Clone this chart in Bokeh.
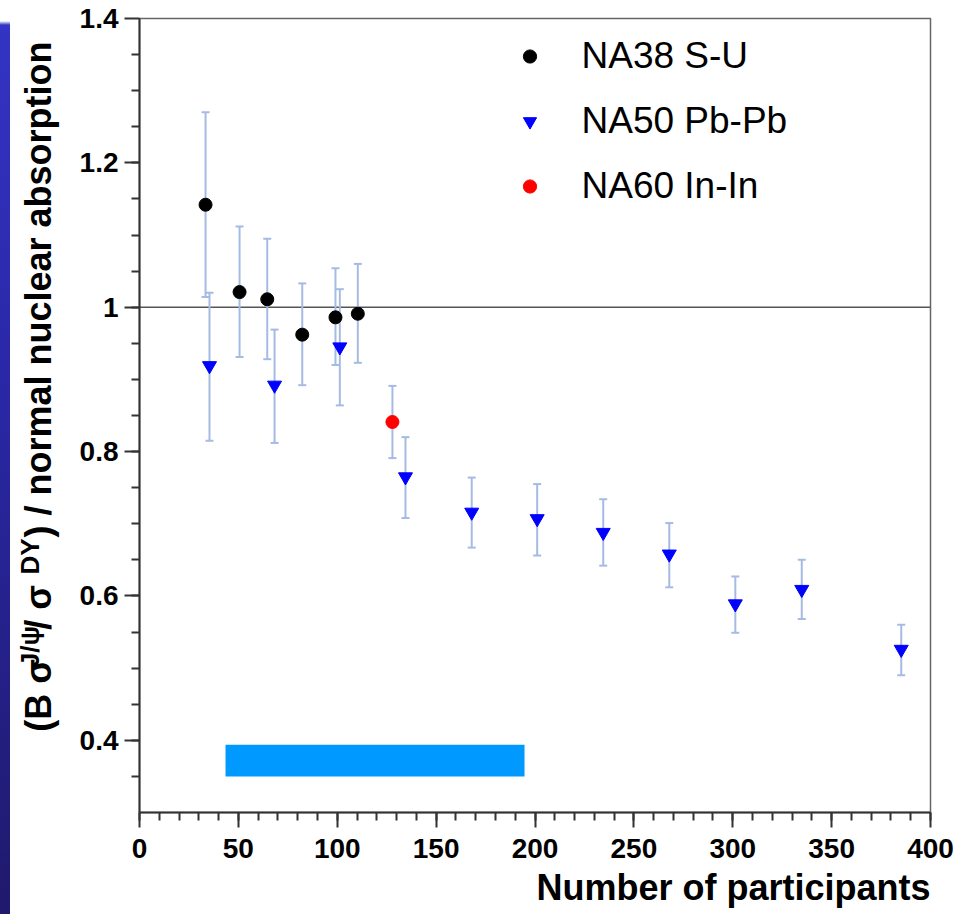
import numpy as np
from bokeh.plotting import figure
from bokeh.models import (Range1d, FixedTicker, CustomJSTickFormatter, Whisker, ColumnDataSource,
                          Span, Legend, LegendItem, TeeHead, Div, Title)
from bokeh.core.properties import value
from bokeh.layouts import row
from bokeh.embed import file_html
from bokeh.resources import INLINE

# ---------------- data ----------------
na38_x = [33.4, 50.6, 64.6, 82.3, 99.1, 110.4]
na38_y = [1.142, 1.021, 1.011, 0.962, 0.986, 0.991]
na38_hi = [1.270, 1.112, 1.095, 1.033, 1.054, 1.060]
na38_lo = [1.014, 0.931, 0.928, 0.892, 0.920, 0.923]

na50_x = [35.4, 68.3, 101.3, 134.5, 168.0, 201.1, 234.5, 267.9, 301.3, 334.9, 385.2]
na50_y = [0.919, 0.892, 0.945, 0.765, 0.716, 0.707, 0.688, 0.658, 0.589, 0.609, 0.526]
na50_hi = [1.020, 0.969, 1.025, 0.820, 0.764, 0.755, 0.734, 0.701, 0.627, 0.650, 0.560]
na50_lo = [0.815, 0.812, 0.864, 0.708, 0.667, 0.656, 0.642, 0.612, 0.549, 0.568, 0.490]

na60_x = [127.9]
na60_y = [0.841]
na60_hi = [0.891]
na60_lo = [0.791]

band_x = [43.5, 194.7]
band_y = [0.350, 0.394]

x_ticks = [0, 50, 100, 150, 200, 250, 300, 350, 400]
y_ticks = [0.4, 0.6, 0.8, 1.0, 1.2, 1.4]
ref_level = 1.0

series_labels = ["NA38 S-U", "NA50 Pb-Pb", "NA60 In-In"]
x_title = "Number of participants"
y_title_main = ["(B \u03c3", " / \u03c3", ") / normal nuclear absorption"]
y_title_sup = ["J/\u03c8", "DY"]

FONT = "Liberation Sans"
ERR = "#a6bbe4"

# ---------------- main plot ----------------
p = figure(frame_width=791, frame_height=794, output_backend="svg", toolbar_location=None,
           x_range=Range1d(0, 400), y_range=Range1d(0.3, 1.4),
           min_border_left=74, min_border_right=45, min_border_top=18, min_border_bottom=0)
p.background_fill_color = "#ffffff"
p.border_fill_color = "#ffffff"
p.outline_line_color = "#666666"
p.outline_line_width = 1.5
p.xgrid.visible = False
p.ygrid.visible = False

p.xaxis.ticker = FixedTicker(ticks=x_ticks, minor_ticks=list(np.arange(0, 401, 10)))
p.yaxis.ticker = FixedTicker(ticks=y_ticks, minor_ticks=list(np.round(np.arange(0.35, 1.4, 0.05), 2)))
p.yaxis.formatter = CustomJSTickFormatter(code="return (Math.round(tick*10)/10).toString();")
for ax in (p.xaxis, p.yaxis):
    ax.axis_line_color = "#333333"
    ax.axis_line_width = 2
    ax.major_tick_line_color = "#333333"
    ax.major_tick_line_width = 2
    ax.minor_tick_line_color = "#333333"
    ax.minor_tick_line_width = 2
    ax.major_tick_in = 0
    ax.major_tick_out = 15
    ax.minor_tick_in = 0
    ax.minor_tick_out = 8
    ax.major_label_text_font = FONT
    ax.major_label_text_font_style = "bold"
    ax.major_label_text_font_size = "28px"
    ax.major_label_text_color = "#000000"
p.yaxis.major_label_standoff = 6
p.xaxis.major_label_standoff = 11

p.add_layout(Title(text=x_title, align="right", text_font=FONT, text_font_style="bold",
                   text_font_size="36px", text_color="#000000", standoff=8), "below")

p.add_layout(Span(location=ref_level, dimension="width", line_color="#555555",
                  line_width=1.5, level="underlay"))

p.quad(left=[band_x[0]], right=[band_x[1]], bottom=[band_y[0]], top=[band_y[1]],
       fill_color="#0099ff", line_color=None)

def errbars(xs, lo, hi):
    src = ColumnDataSource(dict(x=xs, lo=lo, hi=hi))
    w = Whisker(source=src, base="x", upper="hi", lower="lo", line_color=ERR, line_width=2,
                upper_head=TeeHead(size=8, line_color=ERR, line_width=2),
                lower_head=TeeHead(size=8, line_color=ERR, line_width=2),
                level="underlay")
    p.add_layout(w)

errbars(na38_x, na38_lo, na38_hi)
errbars(na50_x, na50_lo, na50_hi)
errbars(na60_x, na60_lo, na60_hi)

r38 = p.scatter(na38_x, na38_y, marker="circle", size=13, fill_color="#000000", line_color="#000000")
r50 = p.scatter(na50_x, na50_y, marker="inverted_triangle", size=14, fill_color="#0000ff", line_color="#0000ff")
r60 = p.scatter(na60_x, na60_y, marker="circle", size=13, fill_color="#ff0000", line_color="#ff0000")

legend = Legend(items=[LegendItem(label=series_labels[0], renderers=[r38]),
                       LegendItem(label=series_labels[1], renderers=[r50]),
                       LegendItem(label=series_labels[2], renderers=[r60])],
                location=(373.5, 605), orientation="vertical",
                glyph_width=33, glyph_height=40, label_height=40, spacing=23,
                label_standoff=36, padding=0, margin=0,
                border_line_color=None, background_fill_alpha=0,
                label_text_font=FONT, label_text_font_size="37px", label_text_color="#000000")
p.add_layout(legend)

# ---------------- y-axis title panel (page-pixel coordinates, y measured upward from page bottom) ----------------
t = figure(title=None, frame_width=55, frame_height=914, output_backend="svg", toolbar_location=None,
           x_range=Range1d(10, 65), y_range=Range1d(0, 914),
           x_axis_location=None, y_axis_location=None,
           min_border_left=0, min_border_right=0, min_border_top=0, min_border_bottom=0)
t.outline_line_color = None
t.xgrid.visible = False
t.ygrid.visible = False
t.background_fill_color = "#ffffff"
t.border_fill_color = "#ffffff"

# centres of each piece of the rotated title
main_pos_x = [37.5, 37.5, 37.5]
main_pos_y = [914 - 677, 914 - 584, 914 - 271]
sup_pos_x = [29, 29]
sup_pos_y = [914 - 628, 914 - 538]

t.text(x=main_pos_x, y=main_pos_y, text=y_title_main, angle=np.pi / 2,
       text_align="center", text_baseline="middle", text_font=value(FONT),
       text_font_style="bold", text_font_size="36px", text_color="#000000")
t.text(x=sup_pos_x, y=sup_pos_y, text=y_title_sup, angle=np.pi / 2,
       text_align="center", text_baseline="middle", text_font=value(FONT),
       text_font_style="bold", text_font_size="26px", text_color="#000000")

strip = Div(text="", width=10, height=914, margin=0,
            styles={"background": "linear-gradient(to bottom, #ffffff 0px, #ffffff 21px, #3434c4 25px, #2a28a8 40%, #1f1a6c 100%)"})

layout = row(strip, t, p, spacing=0)
open("out.html", "w").write(file_html(layout, INLINE))
